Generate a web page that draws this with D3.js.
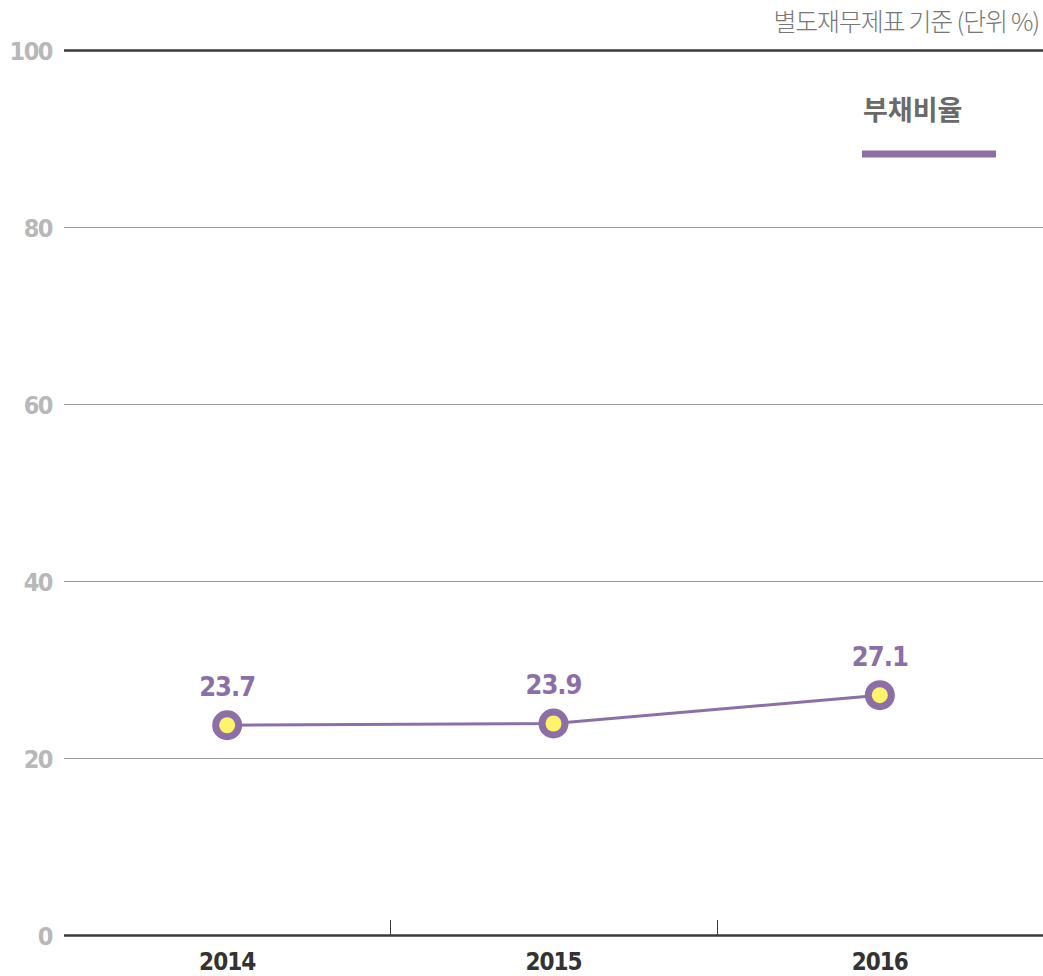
<!DOCTYPE html>
<html>
<head>
<meta charset="utf-8">
<script src="https://cdn.jsdelivr.net/npm/d3@7"></script>
<style>
  body { margin: 0; background: #fff; }
  svg { display: block; }
</style>
</head>
<body>
<div id="chart"></div>
<script>
var years = ["2014", "2015", "2016"];
var debtRatio = [23.7, 23.9, 27.1];
var yTicks = [0, 20, 40, 60, 80, 100];
var seriesName = "부채비율";
var unitNote = "별도재무제표 기준 (단위 %)";

var width = 1043,
    height = 976;
var mLeft = 64, mRight = 1043, mTop = 50, mBottom = 935;

var numFont = "'DejaVu Sans Condensed', 'DejaVu Sans', sans-serif";
var krFont = "'Noto Sans CJK KR', sans-serif";
var purple = "#8c6fa7";

var svg = d3.select("#chart")
    .append("svg")
    .attr("width", width)
    .attr("height", height);

// scales
var x = d3.scaleBand()
    .domain(years)
    .range([mLeft, mRight]);

var y = d3.scaleLinear()
    .domain([0, 100])
    .range([mBottom, mTop]);

// grid lines
svg.append("g")
    .selectAll("line")
    .data(yTicks)
    .enter()
    .append("line")
    .attr("x1", mLeft)
    .attr("x2", mRight)
    .attr("y1", d => Math.round(y(d)) + 0.5)
    .attr("y2", d => Math.round(y(d)) + 0.5)
    .style("stroke", d => (d == 0 || d == 100) ? "#3a3a3a" : "#999")
    .style("stroke-width", d => (d == 0 || d == 100) ? 2.5 : 1);

// y labels
svg.append("g")
    .selectAll("text")
    .data(yTicks)
    .enter()
    .append("text")
    .attr("x", 52)
    .attr("y", d => y(d) + 10)
    .attr("text-anchor", "end")
    .style("font-family", numFont)
    .style("font-stretch", "condensed")
    .style("font-weight", "bold")
    .style("font-size", "25px")
    .style("letter-spacing", "-1.5px")
    .style("fill", "#b8b8b8")
    .text(d => d);

// dividers between categories
svg.append("g")
    .selectAll("line")
    .data(years.slice(1))
    .enter()
    .append("line")
    .attr("x1", d => Math.round(x(d)) + 0.5)
    .attr("x2", d => Math.round(x(d)) + 0.5)
    .attr("y1", y(0) - 15)
    .attr("y2", y(0))
    .style("stroke", "#3a3a3a")
    .style("stroke-width", 1);

// x labels
svg.append("g")
    .selectAll("text")
    .data(years)
    .enter()
    .append("text")
    .attr("x", d => x(d) + x.bandwidth() / 2)
    .attr("y", 970)
    .attr("text-anchor", "middle")
    .style("font-family", numFont)
    .style("font-stretch", "condensed")
    .style("font-weight", "bold")
    .style("font-size", "24px")
    .style("letter-spacing", "-1px")
    .style("fill", "#333")
    .text(d => d);

var pts = years.map(function(d, i) {
    return { year: d, value: debtRatio[i] };
});

// line
var line = d3.line()
    .x(d => x(d.year) + x.bandwidth() / 2)
    .y(d => y(d.value));

svg.append("path")
    .datum(pts)
    .attr("d", line)
    .style("fill", "none")
    .style("stroke", purple)
    .style("stroke-width", 3);

// points
var pt = svg.append("g")
    .selectAll("g")
    .data(pts)
    .enter()
    .append("g")
    .attr("transform", d => "translate(" + (x(d.year) + x.bandwidth() / 2) + "," + y(d.value) + ")");

pt.append("circle")
    .attr("r", 15)
    .style("fill", purple);

pt.append("circle")
    .attr("r", 8)
    .style("fill", "#fff36b");

pt.append("text")
    .attr("y", -29)
    .attr("text-anchor", "middle")
    .style("font-family", numFont)
    .style("font-stretch", "condensed")
    .style("font-weight", "bold")
    .style("font-size", "27px")
    .style("letter-spacing", "-1px")
    .style("fill", purple)
    .text(d => d.value.toFixed(1));

// legend
svg.append("text")
    .attr("x", 863)
    .attr("y", 120)
    .style("font-family", krFont)
    .style("font-weight", "bold")
    .style("font-size", "27px")
    .style("fill", "#6a6a6a")
    .text(seriesName);

svg.append("line")
    .attr("x1", 862)
    .attr("x2", 996)
    .attr("y1", 154)
    .attr("y2", 154)
    .style("stroke", purple)
    .style("stroke-width", 7);

// unit note
svg.append("text")
    .attr("x", 1039)
    .attr("y", 31)
    .attr("text-anchor", "end")
    .style("font-family", krFont)
    .style("font-weight", "300")
    .style("font-size", "25px")
    .style("letter-spacing", "-1.2px")
    .style("fill", "#777")
    .text(unitNote);
</script>
</body>
</html>
